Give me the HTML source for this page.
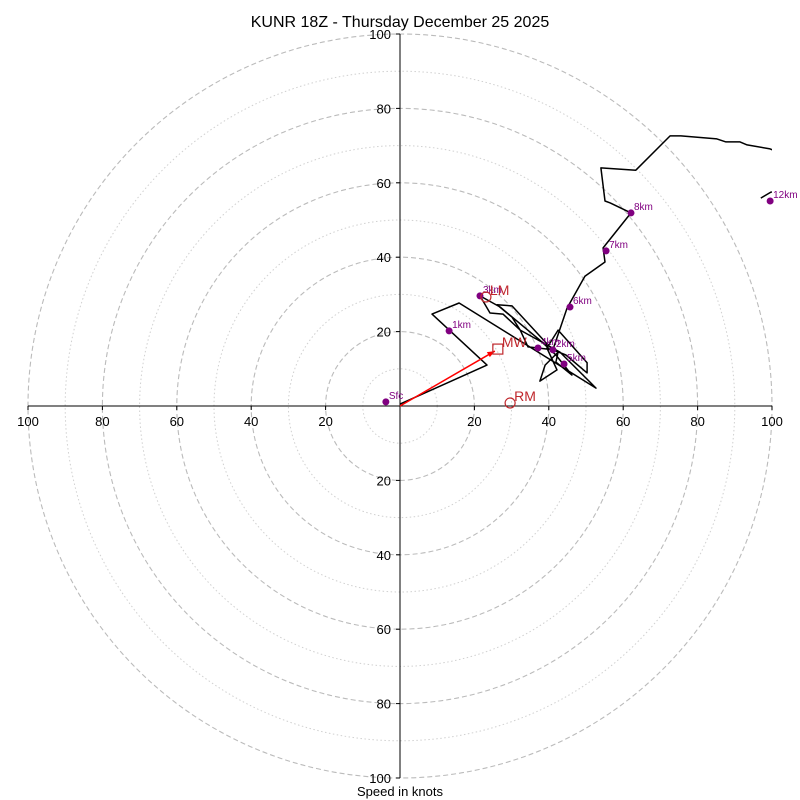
<!DOCTYPE html>
<html><head><meta charset="utf-8"><style>
body{margin:0;background:#fff;}
svg{display:block;font-family:"Liberation Sans",sans-serif;}
</style></head><body>
<svg id="chart" width="800" height="800">
<text x="400" y="27" text-anchor="middle" font-size="16">KUNR 18Z - Thursday December 25 2025</text>
<text x="400" y="796" text-anchor="middle" font-size="13">Speed in knots</text>
<defs><clipPath id="clip"><rect x="28" y="34" width="744" height="744"/></clipPath></defs>
<g id="grid"></g><g id="axes"></g><g id="plot" clip-path="url(#clip)"></g><g id="marks"></g>
</svg>
<script>
const ringsMajor=[20,40,60,80,100];
const ringsMinor=[10,30,50,70,90];
const tickLabels=[20,40,60,80,100];
const traceU=[0,23.4,8.6,15.9,52.7,43.0,32.3,30.1,26.1,30.1,39.8,41.1,37.1,34.4,32.3,27.7,24.2,21.5,26.9,37.6,41.9,46.2,41.9,42.5,39.0,37.6,42.2,39.5,42.5,50.3,50.3,44.6,41.1,44.9,49.7,55.1,54.6,62.1,56.5,55.1,54.0,63.4,72.6,75.5,85.2,87.6,91.4,93.3,99.5,104.8,110,99.7,97];
const traceV=[0.5,11.0,24.7,27.7,4.8,14.5,20.4,23.9,27.2,26.9,16.4,15.1,15.6,15.9,20.4,24.7,25.0,29.6,26.6,17.7,13.7,8.3,11.8,14.5,11.0,6.7,9.7,15.6,20.4,11.6,8.9,13.7,15.1,26.3,34.9,38.7,42.5,51.9,54.6,55.1,64.0,63.4,72.6,72.6,71.8,71.0,71.0,70.2,69.1,66.9,58,57.5,55.9];
const hLabels=["Sfc","1km","2km","3km","4km","5km","6km","7km","8km","12km"];
const hU=[-3.8,13.2,41.1,21.5,37.1,44.1,45.7,55.4,62.1,99.5];
const hV=[1.1,20.2,15.1,29.6,15.6,11.3,26.6,41.7,51.9,55.1];
const mwU=26.3, mwV=15.3, lmU=23.1, lmV=29.3, rmU=29.6, rmV=0.8;

const CX=400,CY=406,K=3.72;
const sx=u=>CX+u*K, sy=v=>CY-v*K;
const NS="http://www.w3.org/2000/svg";
function mk(tag,parent,attrs){const e=document.createElementNS(NS,tag);for(const k in attrs)e.setAttribute(k,attrs[k]);parent.appendChild(e);return e;}
const grid=document.getElementById('grid'),axes=document.getElementById('axes'),plot=document.getElementById('plot'),marks=document.getElementById('marks');
ringsMinor.forEach(r=>{const c=mk('circle',grid,{cx:CX,cy:CY,r:r*K,fill:'none',stroke:'#d0d0d0','stroke-dasharray':'1.5,2.5','stroke-width':1});

});
ringsMajor.forEach(r=>{const c=mk('circle',grid,{cx:CX,cy:CY,r:r*K,fill:'none',stroke:'#bbbbbb','stroke-dasharray':'5,3','stroke-width':1.1});

});
const xa=mk('line',axes,{x1:sx(-100),y1:CY,x2:sx(100),y2:CY,stroke:'#000','stroke-width':1});


const ya=mk('line',axes,{x1:CX,y1:sy(100),x2:CX,y2:sy(-100),stroke:'#000','stroke-width':1});


tickLabels.forEach(t=>{
 [t,-t].forEach(u=>{mk('line',axes,{x1:sx(u),y1:CY,x2:sx(u),y2:CY+4,stroke:'#000'});
  const tx=mk('text',axes,{x:sx(u),y:CY+20,'text-anchor':'middle','font-size':13});tx.textContent=t;
  
  
  mk('line',axes,{x1:CX-4,y1:sy(u),x2:CX,y2:sy(u),stroke:'#000'});
  const ty=mk('text',axes,{x:CX-9,y:sy(u)+5,'text-anchor':'end','font-size':13});ty.textContent=t;
  
  });
});
const pts=traceU.map((u,i)=>sx(u).toFixed(1)+','+sy(traceV[i]).toFixed(1)).join(' ');
const pl=mk('polyline',plot,{points:pts,fill:'none',stroke:'#000','stroke-width':1.5,'stroke-linejoin':'round'});


const ar=mk('line',marks,{x1:CX,y1:CY,x2:sx(mwU)-3,y2:sy(mwV)+2,stroke:'red','stroke-width':1.5});


mk('polygon',marks,{points:`${sx(mwU)-3},${sy(mwV)+2} ${sx(mwU)-11},${sy(mwV)+3} ${sx(mwU)-8},${sy(mwV)+8}`,fill:'red'});
hLabels.forEach((l,i)=>{const c=mk('circle',marks,{cx:sx(hU[i]),cy:sy(hV[i]),r:3.5,fill:'purple'});
 
 
 const t=mk('text',marks,{x:sx(hU[i])+3,y:sy(hV[i])-3,'font-size':10,fill:'purple'});t.textContent=l;
 
 });
const mw=mk('rect',marks,{x:sx(mwU)-5,y:sy(mwV)-5,width:10,height:10,fill:'none',stroke:'#c0282d','stroke-width':1.2});


const lm=mk('circle',marks,{cx:sx(lmU),cy:sy(lmV),r:5,fill:'none',stroke:'#c0282d','stroke-width':1.2});


const rm=mk('circle',marks,{cx:sx(rmU),cy:sy(rmV),r:5,fill:'none',stroke:'#c0282d','stroke-width':1.2});


[["MW",mwU,mwV,'mw-label'],["LM",lmU,lmV,'lm-label'],["RM",rmU,rmV,'rm-label']].forEach(a=>{
 const t=mk('text',marks,{x:sx(a[1])+4,y:sy(a[2])-2,'font-size':14,fill:'#c0282d'});t.textContent=a[0];
 
 });
</script>
</body></html>
